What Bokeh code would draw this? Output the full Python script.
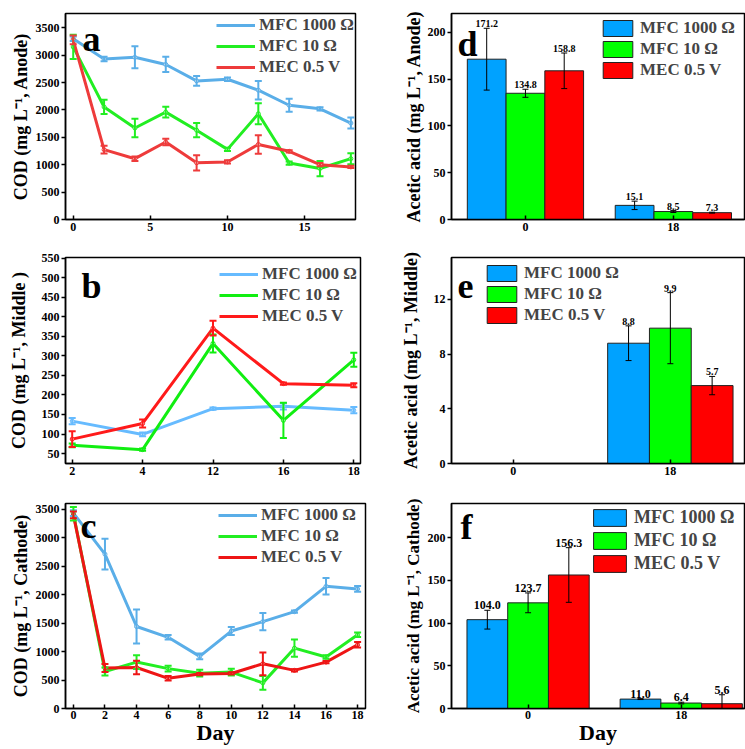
import numpy as np
from bokeh.plotting import figure
from bokeh.models import (Range1d, Whisker, TeeHead, ColumnDataSource, Legend,
                          LegendItem, Label, FixedTicker)
from bokeh.layouts import column, row
from bokeh.embed import file_html
from bokeh.resources import INLINE
from bokeh.core.properties import value

FONT = "Liberation Serif"
series = ["MFC 1000 \u03a9", "MFC 10 \u03a9", "MEC 0.5 V"]

# ---------------- Panel a : COD anode ----------------
days_a = [0, 2, 4, 6, 8, 10, 12, 14, 16, 18]
a_mfc1000 = [3300, 2930, 2960, 2830, 2530, 2560, 2360, 2085, 2020, 1760]
a_mfc1000_err = [40, 40, 200, 140, 90, 30, 170, 120, 30, 100]
a_mfc10 = [3150, 2055, 1670, 1960, 1630, 1280, 1930, 1030, 930, 1110]
a_mfc10_err = [220, 130, 170, 100, 130, 30, 190, 30, 140, 100]
a_mec = [3280, 1275, 1110, 1415, 1035, 1050, 1370, 1245, 1000, 960]
a_mec_err = [80, 70, 40, 60, 140, 30, 170, 20, 30, 20]

# ---------------- Panel b : COD middle ----------------
days_b = ["2", "4", "12", "16", "18"]
b_mfc1000 = [133, 99, 165, 171, 161]
b_mfc1000_err = [8, 5, 3, 8, 8]
b_mfc10 = [71, 60, 332, 135, 290]
b_mfc10_err = [5, 3, 23, 45, 18]
b_mec = [87, 127, 371, 229, 225]
b_mec_err = [20, 10, 19, 3, 5]

# ---------------- Panel c : COD cathode ----------------
days_c = [0, 2, 4, 6, 8, 10, 12, 14, 16, 18]
c_mfc1000 = [3430, 2710, 1440, 1250, 915, 1360, 1525, 1700, 2145, 2100]
c_mfc1000_err = [50, 270, 300, 40, 50, 70, 150, 20, 145, 50]
c_mfc10 = [3420, 650, 815, 700, 620, 640, 450, 1060, 905, 1295]
c_mfc10_err = [120, 70, 120, 50, 60, 60, 120, 150, 30, 40]
c_mec = [3400, 710, 720, 530, 605, 615, 785, 670, 815, 1120]
c_mec_err = [60, 70, 120, 40, 20, 20, 200, 20, 20, 50]

# ---------------- Bars : acetic acid ----------------
bar_days = ["0", "18"]
d_vals = [[171.2, 15.1], [134.8, 8.5], [158.8, 7.3]]
d_errs = [[33, 4.5], [4.3, 1.0], [19, 0.5]]
e_vals = [[0, 8.8], [0, 9.9], [0, 5.7]]
e_errs = [[0, 1.27], [0, 2.6], [0, 0.67]]
f_vals = [[104.0, 11.0], [123.7, 6.4], [156.3, 5.6]]
f_errs = [[11, 0.5], [11.6, 1.0], [32, 10.5]]

line_colors_a = ["#5aaee8", "#22ee22", "#ee3b3b"]
line_colors_b = ["#66bbff", "#11ee11", "#ff1a1a"]
line_colors_c = ["#5aaee8", "#22ee22", "#ee1515"]
bar_colors = ["#00a2ff", "#00ff00", "#ff0000"]


def base_style(p, tick_size="12px"):
    p.outline_line_color = "black"
    p.outline_line_width = 1.5
    p.grid.visible = False
    for ax in p.axis:
        ax.axis_line_width = 1.5
        ax.major_tick_line_width = 1.5
        ax.minor_tick_line_color = None
        ax.major_label_text_font = FONT
        ax.major_label_text_font_style = "bold"
        ax.major_label_text_font_size = tick_size
        ax.major_label_text_color = "black"
        ax.axis_label_text_font = FONT
        ax.axis_label_text_font_style = "bold"
        ax.axis_label_text_color = "black"
    p.xaxis.major_tick_in = 4
    p.xaxis.major_tick_out = 0
    p.yaxis.major_tick_in = 0
    p.yaxis.major_tick_out = 4
    p.yaxis.major_label_standoff = 2
    p.xaxis.major_label_standoff = 3


def letter(p, txt, x, y):
    p.add_layout(Label(x=x, y=y, x_units="screen", y_units="screen", text=txt,
                       text_font=FONT, text_font_size="36px", text_font_style="bold",
                       text_baseline="alphabetic", text_color="black"))


def line_panel(xs, vals, errs, colors, width, height, mb, xr, yr, xticks, yticks,
               ylabel, ylabel_standoff, legend_loc, letter_txt, letter_pos,
               xlabels=None, xlabel=None):
    p = figure(width=width, height=height, output_backend="svg", toolbar_location=None,
               x_range=Range1d(*xr), y_range=Range1d(*yr),
               min_border_left=mb[0], min_border_right=mb[1],
               min_border_top=mb[2], min_border_bottom=mb[3])
    base_style(p)
    items = []
    for name, v, e, c in zip(series, vals, errs, colors):
        v = np.array(v, dtype=float)
        e = np.array(e, dtype=float)
        src = ColumnDataSource(dict(x=xs, y=v, upper=v + e, lower=v - e))
        r1 = p.line("x", "y", source=src, line_color=c, line_width=3)
        p.add_layout(Whisker(base="x", upper="upper", lower="lower", source=src,
                             line_color=c, line_width=2, level="glyph",
                             upper_head=TeeHead(size=7, line_color=c, line_width=2),
                             lower_head=TeeHead(size=7, line_color=c, line_width=2)))
        p.scatter("x", "y", source=src, size=4, line_color=c,
                  fill_color="#eeeeee", line_width=1)
        items.append(LegendItem(label=name, renderers=[r1]))
    leg = Legend(items=items, location=legend_loc, padding=0, margin=0, spacing=1,
                 glyph_width=39, glyph_height=20, label_height=20, label_standoff=4,
                 label_text_font=FONT, label_text_font_style="bold",
                 label_text_font_size="17px", border_line_alpha=0,
                 background_fill_alpha=0)
    p.add_layout(leg)
    p.xaxis.ticker = FixedTicker(ticks=xticks)
    if xlabels is not None:
        p.xaxis.major_label_overrides = {t: l for t, l in zip(xticks, xlabels)}
    p.yaxis.ticker = FixedTicker(ticks=yticks)
    p.yaxis.axis_label = ylabel
    p.yaxis.axis_label_text_font_size = "18px"
    p.yaxis.axis_label_standoff = ylabel_standoff
    if xlabel:
        p.xaxis.axis_label = xlabel
        p.xaxis.axis_label_text_font_size = "22px"
        p.xaxis.axis_label_standoff = -2
        p.xaxis.major_label_standoff = 2
    letter(p, letter_txt, *letter_pos)
    return p


def bar_panel(vals, errs, width, height, mb, xr, yr, yticks, ylabel, ylabel_size,
              ylabel_standoff, bw, legend_loc, legend_font, glyph_w, glyph_h, spacing,
              letter_txt, letter_pos, val_font, xlabel=None):
    p = figure(width=width, height=height, output_backend="svg", toolbar_location=None,
               x_range=Range1d(*xr), y_range=Range1d(*yr),
               min_border_left=mb[0], min_border_right=mb[1],
               min_border_top=mb[2], min_border_bottom=mb[3])
    base_style(p, "12px")
    centers = np.arange(len(bar_days)) + 0.5
    items = []
    for k, (name, v, e, c) in enumerate(zip(series, vals, errs, bar_colors)):
        v = np.array(v, dtype=float)
        e = np.array(e, dtype=float)
        x = centers + (k - 1) * bw
        src = ColumnDataSource(dict(x=x, top=v))
        r = p.vbar(x="x", top="top", bottom=0, width=bw, source=src, fill_color=c,
                   line_color="#222222", line_width=1)
        items.append(LegendItem(label=name, renderers=[r]))
        m = v > 0
        wsrc = ColumnDataSource(dict(x=x[m], upper=(v + e)[m],
                                     lower=np.maximum(v - e, 0)[m],
                                     lab=["%.1f" % t for t in v[m]]))
        p.add_layout(Whisker(base="x", upper="upper", lower="lower", source=wsrc,
                             line_color="black", line_width=1, level="glyph",
                             upper_head=TeeHead(size=6, line_color="black", line_width=1),
                             lower_head=TeeHead(size=6, line_color="black", line_width=1)))
        p.text(x="x", y="upper", text="lab", source=wsrc, text_font=value(FONT),
               text_font_size=value(val_font), text_font_style=value("bold"),
               text_align="center", text_baseline="bottom", y_offset=-1,
               text_color="black")
    leg = Legend(items=items, location=legend_loc, padding=0, margin=0, spacing=spacing,
                 glyph_width=glyph_w, glyph_height=glyph_h, label_height=glyph_h,
                 label_standoff=4, label_text_font=FONT, label_text_font_style="bold",
                 label_text_font_size=legend_font, border_line_alpha=0,
                 background_fill_alpha=0)
    p.add_layout(leg)
    p.xaxis.ticker = FixedTicker(ticks=list(centers))
    p.xaxis.major_label_overrides = {float(t): l for t, l in zip(centers, bar_days)}
    p.yaxis.ticker = FixedTicker(ticks=yticks)
    p.yaxis.axis_label = ylabel
    p.yaxis.axis_label_text_font_size = ylabel_size
    p.yaxis.axis_label_standoff = ylabel_standoff
    if xlabel:
        p.xaxis.axis_label = xlabel
        p.xaxis.axis_label_text_font_size = "22px"
        p.xaxis.axis_label_standoff = -2
        p.xaxis.major_label_standoff = 2
    letter(p, letter_txt, *letter_pos)
    return p


LW, RW = 372, 373

pa = line_panel(days_a, [a_mfc1000, a_mfc10, a_mec], [a_mfc1000_err, a_mfc10_err, a_mec_err],
                line_colors_a, LW, 240, (65, 17, 13, 21), (-0.5, 18.3), (0, 3760),
                [0, 5, 10, 15], list(range(0, 3501, 500)),
                "COD (mg L\u207b\u00b9, Anode)", 2, (151, 142), "a", (17, 181))

pb = line_panel(list(range(len(days_b))), [b_mfc1000, b_mfc10, b_mec],
                [b_mfc1000_err, b_mfc10_err, b_mec_err],
                line_colors_b, LW, 250, (65, 12, 17, 27), (-0.095, 4.095), (24.5, 552),
                list(range(len(days_b))), list(range(50, 551, 50)),
                "COD (mg L\u207b\u00b9, Middle )", 10, (154, 137), "b", (16, 178),
                xlabels=days_b)

pc = line_panel(days_c, [c_mfc1000, c_mfc10, c_mec], [c_mfc1000_err, c_mfc10_err, c_mec_err],
                line_colors_c, LW, 259, (65, 7, 13, 41), (-0.5, 18.5), (0, 3600),
                list(range(0, 19, 2)), list(range(0, 3501, 500)),
                "COD (mg L\u207b\u00b9, Cathode)", 2, (153, 141), "c", (15, 183),
                xlabel="Day")

pd_ = bar_panel(d_vals, d_errs, RW, 240, (79, 1, 13, 21), (0, 1.981), (0, 220),
                [0, 50, 100, 150, 200], "Acetic acid (mg L\u207b\u00b9, Anode)", "18px", 1,
                0.262, (148, 139), "17px", 37, 20, 1, "d", (6, 176), "10px")

pe = bar_panel(e_vals, e_errs, RW, 250, (79, 1, 17, 27), (0.107, 1.972), (0, 15.07),
               [0, 4, 8, 12], "Acetic acid (mg L\u207b\u00b9, Middle)", "18px", 10,
               0.266, (32, 138), "17px", 37, 20, 1, "e", (6, 178), "10px")

pf = bar_panel(f_vals, f_errs, RW, 259, (79, 1, 5, 41), (0, 1.913), (0, 240),
               [0, 50, 100, 150, 200], "Acetic acid (mg L\u207b\u00b9, Cathode)", "17px", 2,
               0.266, (138, 134), "18px", 41, 21, 2, "f", (9, 182), "12px",
               xlabel="Day")

layout = column(row(pa, pd_), row(pb, pe), row(pc, pf))

with open("out.html", "w") as fh:
    fh.write(file_html(layout, INLINE))
